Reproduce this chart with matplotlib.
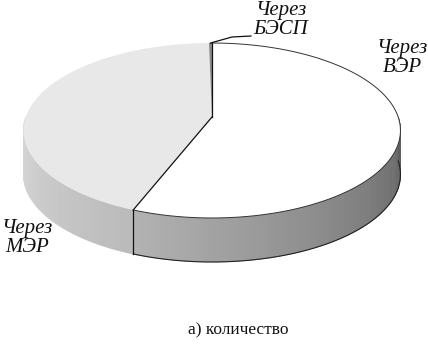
import numpy as np
import matplotlib
matplotlib.use("Agg")
import matplotlib.pyplot as plt
from matplotlib.patches import Polygon

# Данные (доли, %)
labels = ["Через\nВЭР", "Через\nМЭР", "Через\nБЭСП"]
shares = [55.9, 43.8, 0.3]
caption = "а) количество"

# Цвета: верх и градиент боковой стенки (слева, справа)
top_colors = ["#ffffff", "#e8e8e8", "#8a8a8a"]
side_grad = [(0.70, 0.37), (0.86, 0.73), (0.55, 0.55)]

# Геометрия псевдо-3D (перспектива) в пикселях
cx, cy = 212.0, 117.0
A, B, k = 186.2, 85.4, 0.1543
D = 44.0


def proj(t, r=1.0, dz=0.0):
    u = r * np.cos(t)
    v = r * np.sin(t)
    w = 1 + k * v
    return cx + A * u / w, cy - B * v / w + dz


fig = plt.figure(figsize=(4.28, 3.46), dpi=100)
ax = fig.add_axes([0, 0, 1, 1])
ax.set_xlim(0, 428)
ax.set_ylim(346, 0)
ax.axis("off")

# углы срезов: от 12 часов по часовой стрелке
total = sum(shares)
bounds = [90.0]
for s in shares:
    bounds.append(bounds[-1] - 360.0 * s / total)

# боковые стенки (только передняя половина)
for i in range(len(shares)):
    t_hi, t_lo = bounds[i], bounds[i + 1]
    for n in (-1, 0, 1):
        a = max(t_lo, -180 + 360 * n)
        b = min(t_hi, 0 + 360 * n)
        if b <= a:
            continue
        ts = np.radians(np.linspace(a, b, 80))  # слева направо
        c0, c1 = side_grad[i]
        for j in range(len(ts) - 1):
            f = j / (len(ts) - 2)
            g = c0 + (c1 - c0) * f
            x1, y1 = proj(ts[j])
            x2, y2 = proj(ts[j + 1])
            quad = [(x1, y1), (x2, y2), (x2, y2 + D), (x1, y1 + D)]
            ax.add_patch(Polygon(quad, closed=True, facecolor=(g, g, g),
                                 edgecolor=(g, g, g), lw=0.6))
        if i == 0:
            xt, yt = proj(ts)
            ax.plot(xt, yt + D, color="#222222", lw=0.8)
            # вертикальная граница среза
            xe, ye = proj(np.radians(a))
            ax.plot([xe, xe], [ye, ye + D], color="#111111", lw=0.9)

# верхние грани
for i in range(len(shares)):
    t_hi, t_lo = bounds[i], bounds[i + 1]
    ts = np.radians(np.linspace(t_hi, t_lo, 200))
    xs, ys = proj(ts)
    pts = [(cx, cy)] + list(zip(xs, ys))
    ax.add_patch(Polygon(pts, closed=True, facecolor=top_colors[i],
                         edgecolor="none"))

# контуры
ts = np.radians(np.linspace(bounds[0], bounds[1], 200))
xs, ys = proj(ts)
ax.plot(xs, ys, color="#333333", lw=0.7)
for b in (bounds[0], bounds[1]):
    xe, ye = proj(np.radians(b))
    ax.plot([cx, xe], [cy, ye], color="#111111", lw=0.9)

# подписи
font = dict(family="Liberation Serif", style="italic", fontsize=15,
            color="#111111", ha="center", va="center", linespacing=1.0)
ax.text(402, 58, labels[0], **font)
ax.text(27, 238, labels[1], **font)
ax.text(281, 20, labels[2], **font)

# выноска для БЭСП
xm, ym = proj(np.radians((bounds[2] + bounds[3]) / 2))
ax.plot([xm, 232, 251], [ym, 37, 36], color="#111111", lw=0.9)

ax.text(238, 330, caption, family="Liberation Serif", fontsize=12.5,
        color="#111111", ha="center", va="center")

fig.savefig("out.png", dpi=100)
